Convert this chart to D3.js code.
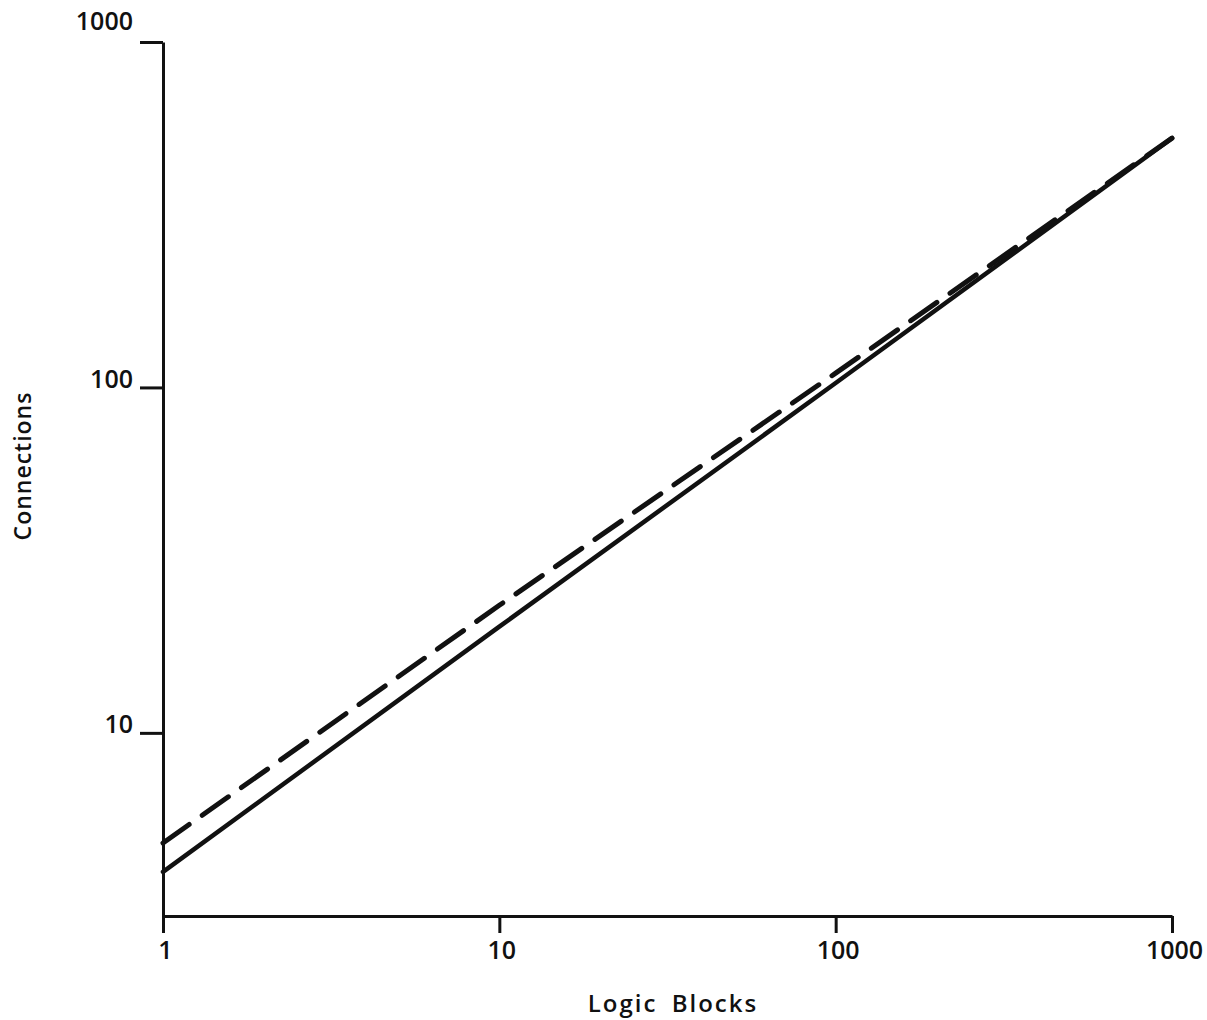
<!DOCTYPE html>
<html>
<head>
<meta charset="utf-8">
<script src="https://cdn.jsdelivr.net/npm/d3@7"></script>
<style>
  html, body { margin: 0; padding: 0; background: #fff; }
  svg { display: block; }
  text { font-family: "Open Sans", "DejaVu Sans", sans-serif; fill: #111; font-weight: 600; }
</style>
</head>
<body>
<svg id="chart" width="1207" height="1020"></svg>
<script>
// Connections versus logic blocks, log-log
const logicBlocks = [1, 10, 100, 1000];
const connectionsSolid = [3.96, 20.3, 103, 527];
const connectionsDashed = [4.8, 23.4, 110, 527];
const xTickValues = [1, 10, 100, 1000];
const xTickLabels = ["1", "10", "100", "1000"];
const yTickValues = [10, 100, 1000];
const yTickLabels = ["10", "100", "1000"];

const svg = d3.select("#chart");
const plotLeft = 163, plotRight = 1172, plotTop = 42, plotBottom = 916;

const x = d3.scaleLog().domain([1, 1000]).range([plotLeft, plotRight]);
const y = d3.scaleLog().domain([2.95, 1000]).range([plotBottom, plotTop]);

const ink = "#111";

// Axes
const xAxis = svg.append("g")
  .attr("transform", `translate(0,${plotBottom})`)
  .call(d3.axisBottom(x).tickValues(xTickValues).tickSize(17).tickSizeOuter(0)
    .tickFormat((d, i) => xTickLabels[i]));
xAxis.select(".domain").attr("stroke", ink).attr("stroke-width", 3);
xAxis.selectAll(".tick line").attr("stroke", ink).attr("stroke-width", 3);
xAxis.selectAll(".tick text")
  .attr("y", 25).attr("dx", 2)
  .style("font-size", "25px").attr("fill", ink);

const yAxis = svg.append("g")
  .attr("transform", `translate(${plotLeft},0)`)
  .call(d3.axisLeft(y).tickValues(yTickValues).tickSize(23).tickSizeOuter(0)
    .tickFormat((d, i) => yTickLabels[i]));
yAxis.select(".domain").attr("stroke", ink).attr("stroke-width", 3);
yAxis.selectAll(".tick line").attr("stroke", ink).attr("stroke-width", 3);
// the top label sits higher, clear of the corner tick
yAxis.selectAll(".tick text")
  .attr("x", -30)
  .attr("dy", d => d === 1000 ? "-0.5em" : "0em")
  .style("font-size", "25px").attr("fill", ink);

// Series lines
const line = (vals) => d3.line()
  .x((d, i) => x(logicBlocks[i]))
  .y(d => y(d))(vals);

svg.append("path")
  .attr("d", line(connectionsSolid))
  .attr("fill", "none").attr("stroke", ink)
  .attr("stroke-width", 4.5).attr("stroke-linecap", "round");

svg.append("path")
  .attr("d", line(connectionsDashed))
  .attr("fill", "none").attr("stroke", ink)
  .attr("stroke-width", 5).attr("stroke-linecap", "round")
  .attr("stroke-dasharray", "32,16");

// Axis titles
svg.append("text")
  .attr("x", 673).attr("y", 1012)
  .attr("text-anchor", "middle")
  .style("font-size", "24px").style("letter-spacing", "2px").style("word-spacing", "6px")
  .text("Logic Blocks");

svg.append("text")
  .attr("transform", "translate(31,466) rotate(-90)")
  .attr("text-anchor", "middle")
  .style("font-size", "23px").style("letter-spacing", "1px")
  .text("Connections");
</script>
</body>
</html>
